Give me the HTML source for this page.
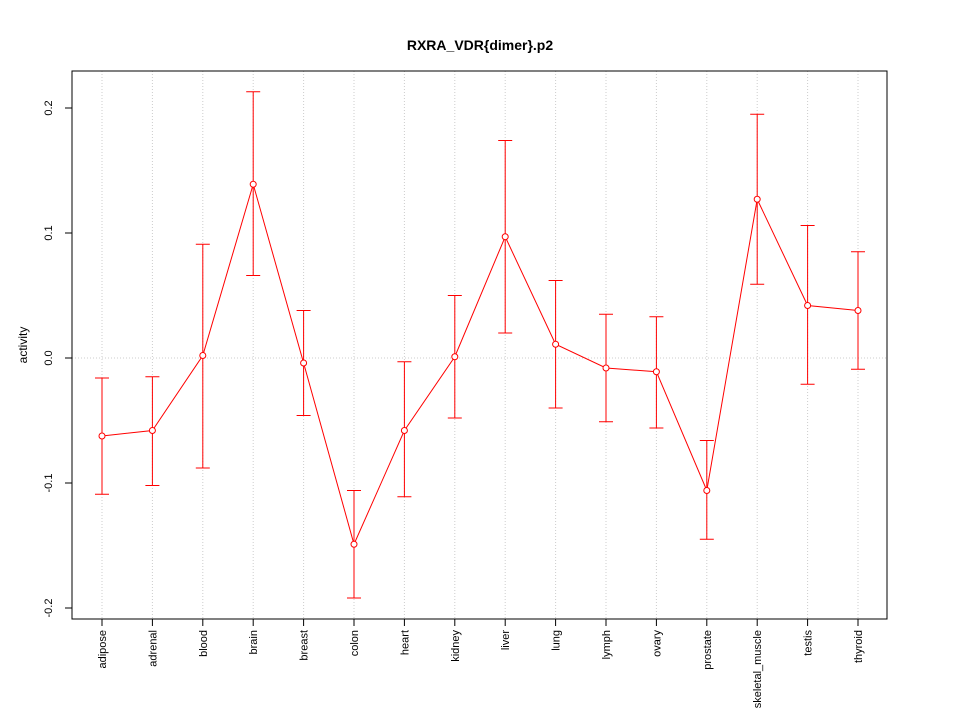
<!DOCTYPE html>
<html><head><meta charset="utf-8"><style>body{margin:0;background:#fff}svg{display:block}</style></head>
<body>
<svg id="c" width="960" height="720" xmlns="http://www.w3.org/2000/svg" font-family="Liberation Sans, sans-serif">
<rect width="960" height="720" fill="#fff"/>
<text x="480" y="50" text-anchor="middle" font-size="14" font-weight="bold">RXRA_VDR{dimer}.p2</text>
<text transform="translate(27,345) rotate(-90)" text-anchor="middle" font-size="12">activity</text>
<g id="g"></g>
<rect x="72" y="71" width="815" height="548" fill="none" stroke="#000"/>
</svg>
<script>
const categories=["adipose","adrenal","blood","brain","breast","colon","heart","kidney","liver","lung","lymph","ovary","prostate","skeletal_muscle","testis","thyroid"];
const values=[-0.0624,-0.058,0.002,0.139,-0.004,-0.149,-0.058,0.001,0.097,0.011,-0.008,-0.011,-0.106,0.127,0.042,0.038];
const upper=[-0.016,-0.015,0.091,0.213,0.038,-0.106,-0.003,0.050,0.174,0.062,0.035,0.033,-0.066,0.195,0.106,0.085];
const lower=[-0.109,-0.102,-0.088,0.066,-0.046,-0.192,-0.111,-0.048,0.020,-0.040,-0.051,-0.056,-0.145,0.059,-0.021,-0.009];
const yTicks=[-0.2,-0.1,0.0,0.1,0.2];
const yTickLabels=["-0.2","-0.1","0.0","0.1","0.2"];
const NS="http://www.w3.org/2000/svg",g=document.getElementById('g');
const x=i=>102+i*(858-102)/(categories.length-1);
const y=v=>358-v*1250;
function mk(t,a){const e=document.createElementNS(NS,t);for(const k in a)e.setAttribute(k,a[k]);g.appendChild(e);return e;}
let e=mk('line',{x1:72,x2:887,y1:y(0),y2:y(0),stroke:'#ccc','stroke-dasharray':'1,2'});


yTicks.forEach((t,i)=>{
 let l=mk('line',{x1:65,x2:72,y1:y(t),y2:y(t),stroke:'#000'});
 
 
 let tx=mk('text',{transform:`translate(52,${y(t)}) rotate(-90)`,'text-anchor':'middle','font-size':11});
 tx.textContent=yTickLabels[i];
 
 
});
categories.forEach((c,i)=>{
 let gl=mk('line',{x1:x(i),x2:x(i),y1:71,y2:619,stroke:'#ccc','stroke-dasharray':'1,2'});
 
 
 let l=mk('line',{x1:x(i),x2:x(i),y1:619,y2:626,stroke:'#000'});
 
 
 let tx=mk('text',{transform:`translate(${x(i)+4},630) rotate(-90)`,'text-anchor':'end','font-size':11});
 tx.textContent=c;
 
 
 let eb=mk('path',{d:`M${x(i)},${y(upper[i])}V${y(lower[i])}M${x(i)-7},${y(upper[i])}h14M${x(i)-7},${y(lower[i])}h14`,stroke:'#f00',fill:'none'});
 
 
});
let p=mk('polyline',{points:values.map((v,i)=>x(i)+','+y(v)).join(' '),fill:'none',stroke:'#f00'});


values.forEach((v,i)=>{
 let c=mk('circle',{cx:x(i),cy:y(v),r:3,fill:'#fff',stroke:'#f00'});
 
 
});
</script>
</body></html>
